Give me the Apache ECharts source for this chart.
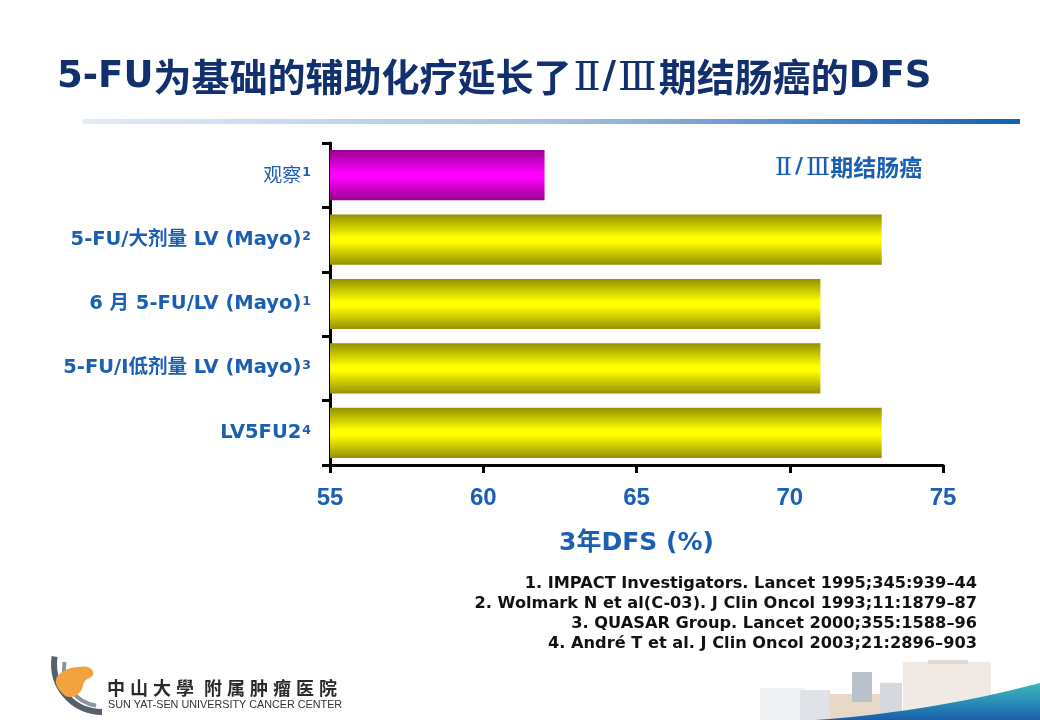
<!DOCTYPE html>
<html>
<head>
<meta charset="utf-8">
<script src="https://cdn.jsdelivr.net/npm/echarts@6/dist/echarts.min.js"></script>
<style>
html,body{margin:0;padding:0;background:#fff;}
#chart{width:1040px;height:720px;}
</style>
</head>
<body>
<div id="chart"></div>
<script>
// ---- data ----
const categories = ['观察', '5-FU/大剂量 LV (Mayo)', '6 月 5-FU/LV (Mayo)', '5-FU/I低剂量 LV (Mayo)', 'LV5FU2'];
const refMarks = ['1', '2', '1', '3', '4'];
const dfsValues = [62, 73, 71, 71, 73];
const xMin = 55, xMax = 75, xStep = 5;
const titleParts = ['5-FU', '为基础的辅助化疗延长了', 'Ⅱ', '/', 'Ⅲ', '期结肠癌的', 'DFS'];
const axisTitle = '3年DFS (%)';
const stageLabel = ['Ⅱ', '/', 'Ⅲ', '期结肠癌'];
const references = [
  '1. IMPACT Investigators. Lancet 1995;345:939–44',
  '2. Wolmark N et al(C-03). J Clin Oncol 1993;11:1879–87',
  '3. QUASAR Group. Lancet 2000;355:1588–96',
  '4. André T et al. J Clin Oncol 2003;21:2896–903'
];
const logoCn = ['中', '山', '大', '學', '附', '属', '肿', '瘤', '医', '院'];
const logoEn = 'SUN YAT-SEN UNIVERSITY CANCER CENTER';

// ---- styles ----
const BLUE = '#1a5fb2';
const NAVY = '#12306e';
const LATIN = 'DejaVu Sans';
const CJK = 'Noto Sans CJK SC';
const SERIF = '"DejaVu Serif", "Liberation Serif", "Noto Sans CJK SC"';
function vgrad(edge, mid) {
  return new echarts.graphic.LinearGradient(0, 0, 0, 1, [
    {offset: 0, color: edge},
    {offset: 0.45, color: mid},
    {offset: 0.55, color: mid},
    {offset: 1, color: edge}
  ]);
}
const magentaFill = vgrad('#99008f', '#ff00ff');
const yellowFill = vgrad('#949000', '#ffff00');

// decorative swoosh outline (bottom-right corner)
function swooshPoints() {
  const pts = [];
  const p0 = [815, 720], p1 = [930, 712], p2 = [1040, 683];
  for (let k = 0; k <= 20; k++) {
    const t = k / 20, u = 1 - t;
    pts.push([u * u * p0[0] + 2 * u * t * p1[0] + t * t * p2[0],
              u * u * p0[1] + 2 * u * t * p1[1] + t * t * p2[1]]);
  }
  pts.push([1040, 720]);
  return pts;
}

const chart = echarts.init(document.getElementById('chart'), null, {renderer: 'canvas'});

const titleRich = {
  l: {fontFamily: LATIN, fontWeight: 'bold', fontSize: 37, color: NAVY},
  c: {fontFamily: CJK, fontWeight: 'bold', fontSize: 38, color: NAVY},
  r: {fontFamily: SERIF, fontWeight: 'normal', fontSize: 40, color: NAVY, padding: [6, 2, 0, 2]}
};
const titleKeys = ['l', 'c', 'r', 'l', 'r', 'c', 'l'];
const titleText = titleParts.map((p, i) => `{${titleKeys[i]}|${p}}`).join('');

const stageKeys = ['r', 'sl', 'r', 'c'];
const stageText = stageLabel.map((p, i) => `{${stageKeys[i]}|${p}}`).join('');

const logoText = logoCn.map((ch, i) => `{${i === 3 ? 'g' : 'k'}|${ch}}`).join('');

const option = {
  backgroundColor: '#ffffff',
  animation: false,
  title: {
    text: titleText,
    left: 52,
    top: 49,
    textStyle: {rich: titleRich}
  },
  grid: {left: 330, right: 97, top: 143, bottom: 255, containLabel: false},
  xAxis: {
    type: 'value',
    min: xMin, max: xMax, interval: xStep,
    splitLine: {show: false},
    axisLine: {show: true, lineStyle: {color: '#000', width: 3}},
    axisTick: {show: true, length: 8, lineStyle: {color: '#000', width: 3}},
    axisLabel: {
      margin: 21,
      fontFamily: 'Liberation Sans', fontWeight: 'bold', fontSize: 24, color: BLUE
    },
    name: axisTitle,
    nameLocation: 'middle',
    nameGap: 66,
    nameTextStyle: {fontFamily: LATIN + ', ' + CJK, fontWeight: 'bold', fontSize: 25, color: BLUE}
  },
  yAxis: {
    type: 'category',
    data: categories,
    inverse: true,
    axisLine: {show: true, lineStyle: {color: '#000', width: 3}},
    axisTick: {show: true, length: 8, lineStyle: {color: '#000', width: 3}},
    axisLabel: {
      margin: 19,
      formatter: (v, i) => `{${i === 0 ? 'n' : 'b'}|${v}}{s|${refMarks[i]}}`,
      rich: {
        b: {fontFamily: LATIN + ', ' + CJK, fontWeight: 'bold', fontSize: 19.5, color: BLUE},
        n: {fontFamily: CJK, fontWeight: 'normal', fontSize: 19, color: BLUE},
        s: {fontFamily: LATIN, fontWeight: 'bold', fontSize: 12.5, color: BLUE, padding: [0, 0, 5, 1]}
      }
    }
  },
  series: [{
    type: 'bar',
    data: dfsValues.map((v, i) => ({value: v, itemStyle: {color: i === 0 ? magentaFill : yellowFill}})),
    barCategoryGap: '22%',
    label: {show: false}
  }],
  graphic: [
    // gradient rule under the title
    {type: 'rect', shape: {x: 82, y: 119, width: 938, height: 5, r: [2.5, 0, 0, 2.5]},
     style: {fill: new echarts.graphic.LinearGradient(0, 0, 1, 0, [
       {offset: 0, color: '#e2ebf5'}, {offset: 0.5, color: '#a7c3e2'}, {offset: 1, color: '#1261b5'}])}},
    // stage label
    {type: 'text', x: 775, y: 167,
     style: {
       text: stageText,
       verticalAlign: 'middle', align: 'left',
       rich: {
         r: {fontFamily: SERIF, fontSize: 25, fontWeight: 'normal', fill: BLUE, color: BLUE, padding: [3, 0, 0, 0]},
         sl: {fontFamily: LATIN, fontSize: 22, fontWeight: 'bold', fill: BLUE, color: BLUE, padding: [0, 3, 0, 3]},
         c: {fontFamily: CJK, fontSize: 23, fontWeight: 'bold', fill: BLUE, color: BLUE}
       }
     }},
    // references
    {type: 'text', x: 977, y: 574,
     style: {
       text: references.join('\n'),
       align: 'right', verticalAlign: 'top',
       font: 'bold 16.2px "DejaVu Sans"', lineHeight: 20, fill: '#111'
     }},
    // bottom-right scenery (simplified)
    {type: 'rect', shape: {x: 760, y: 688, width: 45, height: 32}, style: {fill: '#eef0f2'}},
    {type: 'rect', shape: {x: 800, y: 690, width: 30, height: 30}, style: {fill: '#dfe3e7'}},
    {type: 'rect', shape: {x: 830, y: 694, width: 70, height: 26}, style: {fill: '#e8d8c8'}},
    {type: 'rect', shape: {x: 852, y: 672, width: 20, height: 30}, style: {fill: '#b9c2ca'}},
    {type: 'rect', shape: {x: 880, y: 683, width: 22, height: 30}, style: {fill: '#d5d9de'}},
    {type: 'rect', shape: {x: 903, y: 662, width: 88, height: 52}, style: {fill: '#f1e9e4'}},
    {type: 'rect', shape: {x: 928, y: 660, width: 40, height: 4}, style: {fill: '#e2d8d2'}},
    {type: 'polygon', shape: {points: swooshPoints()},
     style: {fill: new echarts.graphic.LinearGradient(0, 0, 0, 1, [
       {offset: 0, color: '#3ab9b6'}, {offset: 0.5, color: '#2a8fb8'}, {offset: 1, color: '#1a5ea8'}])}},
    // logo
    {type: 'arc', shape: {cx: 102, cy: 664, r: 48, startAngle: Math.PI * 0.5, endAngle: Math.PI * 1.05, clockwise: true},
     style: {stroke: '#56606a', lineWidth: 6, fill: null}},
    {type: 'arc', shape: {cx: 102, cy: 668, r: 38, startAngle: Math.PI * 0.55, endAngle: Math.PI * 1.05, clockwise: true},
     style: {stroke: '#8a949c', lineWidth: 4, fill: null}},
    {type: 'polygon', shape: {points: [[56, 680], [64, 671], [77, 667], [90, 668], [93, 675], [85, 681], [80, 692], [70, 697], [61, 692]], smooth: 0.4},
     style: {fill: '#f2a23e'}},
    {type: 'text', x: 107, y: 688,
     style: {text: logoText, verticalAlign: 'middle', align: 'left',
       rich: {
         k: {fontFamily: CJK, fontWeight: 'bold', fontSize: 18, fill: '#2a2a2a', color: '#2a2a2a', padding: [0, 5, 0, 0]},
         g: {fontFamily: CJK, fontWeight: 'bold', fontSize: 18, fill: '#2a2a2a', color: '#2a2a2a', padding: [0, 10, 0, 0]}
       }}},
    {type: 'text', x: 108, y: 705,
     style: {text: logoEn, font: '10.8px "Liberation Sans"', fill: '#333', verticalAlign: 'middle', align: 'left'}}
  ]
};
chart.setOption(option);
</script>
</body>
</html>
